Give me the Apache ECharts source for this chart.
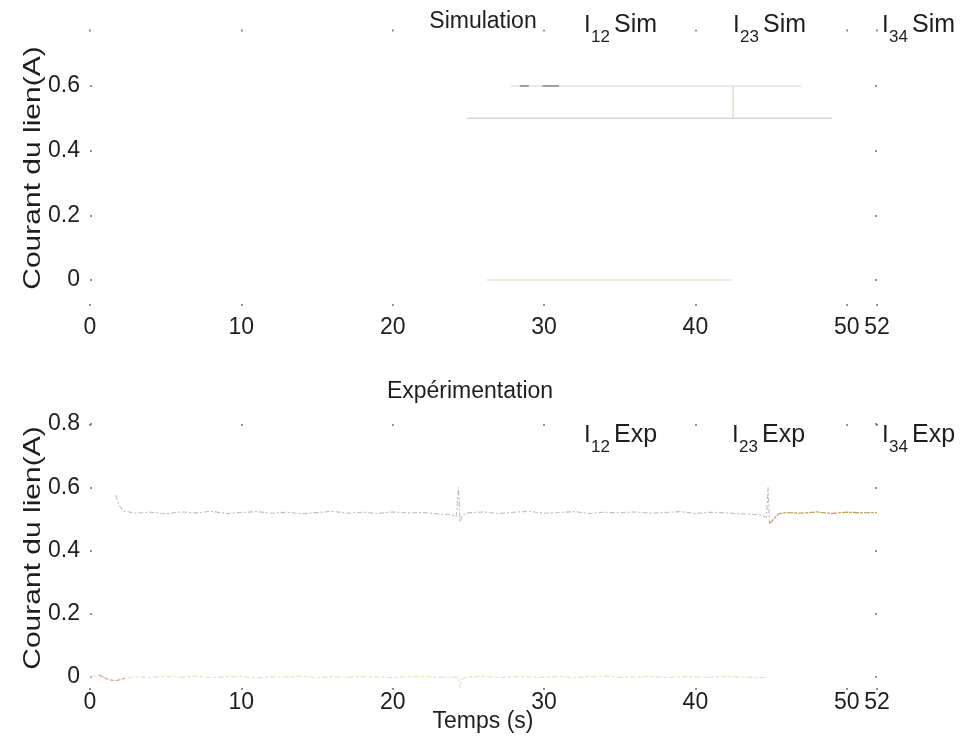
<!DOCTYPE html>
<html>
<head>
<meta charset="utf-8">
<script src="https://cdn.jsdelivr.net/npm/echarts@6/dist/echarts.min.js"></script>
<style>
  html, body { margin: 0; padding: 0; background: #fff; }
  #chart { width: 968px; height: 745px; }
</style>
</head>
<body>
<div id="chart"></div>
<script>
// ---- Axis ticks ----
const xTicks = [0, 10, 20, 30, 40, 50, 52];
const ySimTicks = [0, 0.2, 0.4, 0.6];
const yExpTicks = [0, 0.2, 0.4, 0.6, 0.8];

// ---- Simulation: link currents (A) vs time (s) ----
const simHighT = [27.8, 47.0];
const simHighV = [0.6, 0.6];
const simHighDarkT = [28.4, 29.0, null, 29.9, 31.0];
const simHighDarkV = [0.6, 0.6, null, 0.6, 0.6];
const simMidT = [24.9, 42.5, 49.0];
const simMidV = [0.5, 0.5, 0.5];
const simStepT = [42.5, 42.5];
const simStepV = [0.5, 0.6];
const simLowT = [26.2, 42.4];
const simLowV = [0, 0];

// ---- Experimentation: link currents (A) vs time (s) ----
const expMidT = [1.7, 1.9, 2.2, 3, 4, 5, 6, 7, 8, 9, 10, 11, 12, 13, 14, 15, 16, 17, 18, 19, 20,
  21, 22, 23, 23.8, 24.2, 24.35, 24.45, 24.6, 25, 26, 27, 28, 29, 30, 31, 32, 33, 34, 35,
  36, 37, 38, 39, 40, 41, 42, 43, 44, 44.4, 44.7, 44.8, 44.9];
const expMidV = [0.575, 0.545, 0.525, 0.518, 0.521, 0.516, 0.522, 0.519, 0.524, 0.517, 0.52,
  0.523, 0.518, 0.521, 0.516, 0.52, 0.524, 0.518, 0.521, 0.517, 0.522, 0.519, 0.52, 0.516,
  0.514, 0.508, 0.6, 0.49, 0.512, 0.519, 0.522, 0.517, 0.521, 0.524, 0.518, 0.52, 0.523,
  0.517, 0.521, 0.519, 0.522, 0.518, 0.52, 0.523, 0.517, 0.521, 0.519, 0.516, 0.514, 0.51,
  0.505, 0.6, 0.485];
const expTailT = [44.9, 45.5, 46, 47, 48, 49, 50, 51, 52];
const expTailV = [0.485, 0.516, 0.52, 0.518, 0.522, 0.517, 0.521, 0.519, 0.52];
const expLowT = [0, 0.6, 1.2, 1.7, 2.3, 3, 4, 5, 6, 7, 8, 9, 10, 11, 12, 13, 14, 15, 16, 17,
  18, 19, 20, 21, 22, 23, 24, 24.35, 24.45, 24.6, 25, 26, 27, 28, 29, 30, 31, 32, 33, 34,
  35, 36, 37, 38, 39, 40, 41, 42, 43, 44, 44.8];
const expLowV = [0.002, 0.006, -0.008, -0.012, -0.004, 0.001, -0.002, 0.002, -0.001, 0.003,
  -0.002, 0.001, 0.002, -0.003, 0.001, 0.0, 0.003, -0.002, 0.001, -0.001, 0.002, 0.0, -0.002,
  0.001, 0.002, -0.001, 0.0, -0.002, -0.035, -0.006, 0.001, 0.002, -0.002, 0.001, 0.0, -0.001,
  0.002, -0.002, 0.001, 0.003, -0.001, 0.0, 0.002, -0.002, 0.001, 0.0, -0.001, 0.002, 0.0,
  -0.002, -0.001];
const expLowRedT = [0.6, 1.2, 1.7, 2.3];
const expLowRedV = [0.006, -0.008, -0.012, -0.004];

const zip = (t, v) => t.map((x, i) => (x === null ? [null, null] : [x, v[i]]));

const FONT = "'Liberation Sans', Arial, sans-serif";
const TXT = '#1e1e1e';
const TICK = '#6e6e6e';

function tickStyle(values) {
  return { show: true, inside: true, length: 2, customValues: values, lineStyle: { color: TICK, width: 1.5 } };
}

function xAxisPair(gridIndex, labelMargin) {
  return [
    {
      type: 'value', gridIndex, min: 0, max: 52, position: 'bottom',
      splitLine: { show: false }, axisLine: { show: false, onZero: false },
      axisTick: tickStyle(xTicks),
      axisLabel: { customValues: xTicks, margin: labelMargin, color: TXT, fontSize: 23, fontFamily: FONT,
        hideOverlap: false, showMinLabel: true, showMaxLabel: true }
    },
    {
      type: 'value', gridIndex, min: 0, max: 52, position: 'top',
      splitLine: { show: false }, axisLine: { show: false, onZero: false },
      axisTick: tickStyle(xTicks),
      axisLabel: { show: false }
    }
  ];
}

function yAxisPair(gridIndex, min, max, ticks) {
  return [
    {
      type: 'value', gridIndex, min, max, position: 'left',
      splitLine: { show: false }, axisLine: { show: false, onZero: false },
      axisTick: tickStyle(ticks),
      axisLabel: { customValues: ticks, margin: 10, color: TXT, fontSize: 23, fontFamily: FONT,
        showMinLabel: true, showMaxLabel: true }
    },
    {
      type: 'value', gridIndex, min, max, position: 'right',
      splitLine: { show: false }, axisLine: { show: false, onZero: false },
      axisTick: tickStyle(ticks),
      axisLabel: { show: false }
    }
  ];
}

function line(xi, yi, data, color, width, dash) {
  return {
    type: 'line', xAxisIndex: xi, yAxisIndex: yi, data, showSymbol: false, symbol: 'none',
    connectNulls: false, silent: true, z: 2,
    lineStyle: { color, width: width || 1, type: dash || 'solid' }
  };
}

// Text of the form I<sub>ab</sub> Name
function currentLabel(x, y, sub, word) {
  return {
    type: 'group', x, y,
    children: [
      { type: 'text', x: 0, y: 0, style: { text: 'I', font: '24px ' + FONT, fill: TXT, verticalAlign: 'middle' } },
      { type: 'text', x: 7, y: 12, style: { text: sub, font: '17px ' + FONT, fill: TXT, verticalAlign: 'middle' } },
      { type: 'text', x: 30, y: 0, style: { text: word, font: '25px ' + FONT, fill: TXT, verticalAlign: 'middle' } }
    ]
  };
}

const chart = echarts.init(document.getElementById('chart'), null, { renderer: 'canvas' });

chart.setOption({
  animation: false,
  backgroundColor: '#ffffff',
  grid: [
    { left: 90, right: 91, top: 29.4, height: 276.5 },
    { left: 90, right: 91, top: 424, height: 266 }
  ],
  xAxis: [...xAxisPair(0, 10), ...xAxisPair(1, 1)],
  yAxis: [...yAxisPair(0, -0.08, 0.775, ySimTicks), ...yAxisPair(1, -0.041, 0.8, yExpTicks)],
  series: [
    line(0, 0, zip(simHighT, simHighV), '#e4e4e4', 1.5),
    line(0, 0, zip(simHighDarkT, simHighDarkV), '#5a5a5a', 1),
    line(0, 0, zip(simMidT, simMidV), '#d6d6d6', 1.5),
    line(0, 0, zip(simStepT, simStepV), '#e3e3c6', 1.5),
    line(0, 0, zip(simLowT, simLowV), '#ebe6d0', 1.5),
    line(2, 2, zip(expLowT, expLowV), '#efe3bd', 1.3, [6, 2, 3, 2]),
    line(2, 2, zip(expLowRedT, expLowRedV), '#e6a49a', 1.2, [4, 2]),
    line(2, 2, zip(expMidT, expMidV), '#bdbdbd', 1.1, [5, 2, 2, 2]),
    line(2, 2, zip(expTailT, expTailV), '#c9a266', 1.3, [6, 1, 3, 1])
  ],
  graphic: [
    { type: 'text', x: 483, y: 22, style: { text: 'Simulation', font: '23px ' + FONT, fill: TXT, align: 'center', verticalAlign: 'middle' } },
    { type: 'text', x: 470, y: 392, style: { text: 'Expérimentation', font: '23px ' + FONT, fill: TXT, align: 'center', verticalAlign: 'middle' } },
    { type: 'text', x: 33, y: 168, rotation: Math.PI / 2, scaleX: 1.25, style: { text: 'Courant du lien(A)', font: '24px ' + FONT, fill: TXT, align: 'center', verticalAlign: 'middle' } },
    { type: 'text', x: 33, y: 548, rotation: Math.PI / 2, scaleX: 1.25, style: { text: 'Courant du lien(A)', font: '24px ' + FONT, fill: TXT, align: 'center', verticalAlign: 'middle' } },
    { type: 'text', x: 483, y: 722, style: { text: 'Temps (s)', font: '23px ' + FONT, fill: TXT, align: 'center', verticalAlign: 'middle' } },
    currentLabel(584, 25, '12', 'Sim'),
    currentLabel(733, 25, '23', 'Sim'),
    currentLabel(882, 25, '34', 'Sim'),
    currentLabel(584, 435, '12', 'Exp'),
    currentLabel(732, 435, '23', 'Exp'),
    currentLabel(882, 435, '34', 'Exp')
  ]
});
</script>
</body>
</html>
